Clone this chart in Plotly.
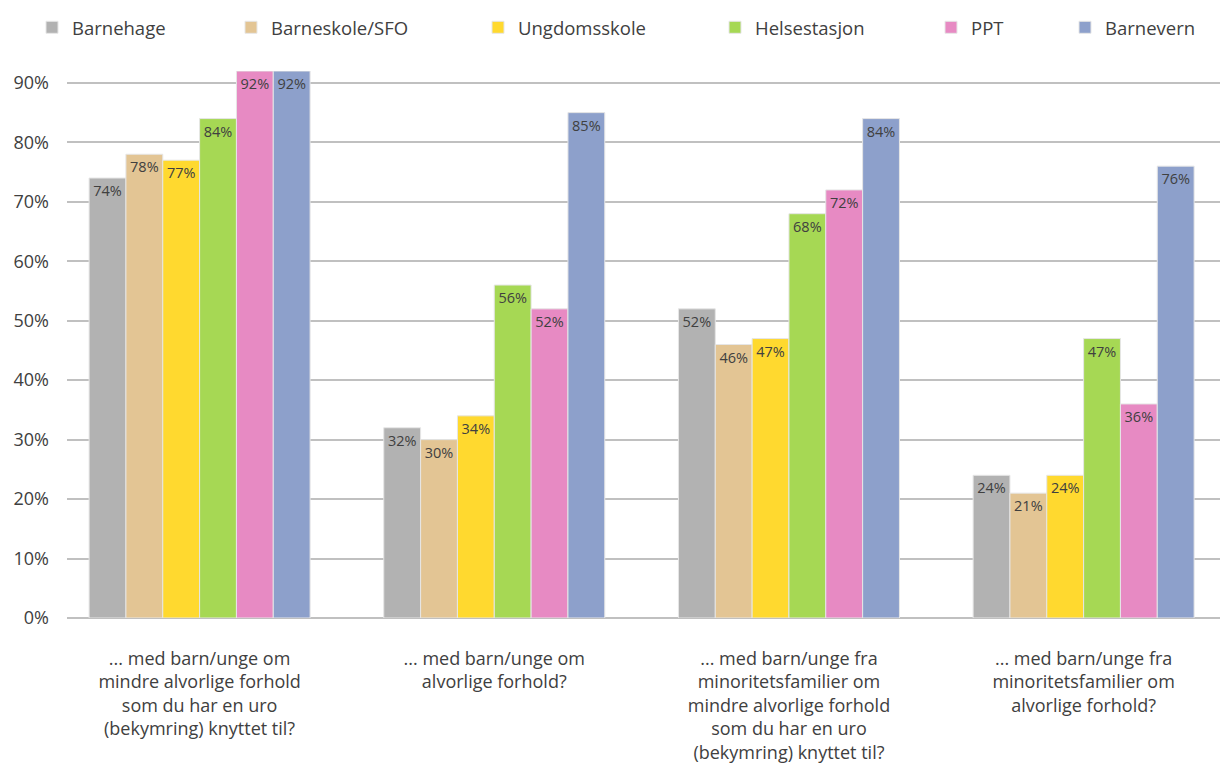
import plotly.graph_objects as go

categories = [
    "... med barn/unge om<br>mindre alvorlige forhold<br>som du har en uro<br>(bekymring) knyttet til?",
    "... med barn/unge om<br>alvorlige forhold?",
    "... med barn/unge fra<br>minoritetsfamilier om<br>mindre alvorlige forhold<br>som du har en uro<br>(bekymring) knyttet til?",
    "... med barn/unge fra<br>minoritetsfamilier om<br>alvorlige forhold?",
]
series_names = ["Barnehage", "Barneskole/SFO", "Ungdomsskole", "Helsestasjon", "PPT", "Barnevern"]
barnehage = [0.74, 0.32, 0.52, 0.24]
barneskole = [0.78, 0.30, 0.46, 0.21]
ungdomsskole = [0.77, 0.34, 0.47, 0.24]
helsestasjon = [0.84, 0.56, 0.68, 0.47]
ppt = [0.92, 0.52, 0.72, 0.36]
barnevern = [0.92, 0.85, 0.84, 0.76]
tick_vals = [0, 0.1, 0.2, 0.3, 0.4, 0.5, 0.6, 0.7, 0.8, 0.9]
tick_text = ["0%", "10%", "20%", "30%", "40%", "50%", "60%", "70%", "80%", "90%"]

series_values = [barnehage, barneskole, ungdomsskole, helsestasjon, ppt, barnevern]
colors = ["#B2B2B2", "#E3C594", "#FFD92F", "#A6D854", "#E78AC3", "#8DA0CB"]

FONT = "Open Sans"
W, H = 1228, 774
L, R, T, B = 59, 8, 63, 164
legend_text_px = [73, 272, 519, 756, 972, 1106]

fig = go.Figure()
x_idx = list(range(len(categories)))
for i, (name, vals, col) in enumerate(zip(series_names, series_values, colors)):
    lg = "legend" if i == 0 else f"legend{i+1}"
    fig.add_trace(go.Bar(
        name=name, x=x_idx, y=vals,
        marker=dict(color=col, line=dict(color="#E6E6E6", width=1)),
        texttemplate="%{y:.0%}", textposition="inside", insidetextanchor="end",
        textangle=0, constraintext="none",
        textfont=dict(family=FONT, size=14.5, color="#404040"),
        legend=lg, hoverinfo="skip",
    ))

layout_legends = {}
plot_w = W - L - R
for i, tx in enumerate(legend_text_px):
    key = "legend" if i == 0 else f"legend{i+1}"
    layout_legends[key] = dict(
        x=(tx - 41 - 67) / plot_w, xanchor="left", y=0.999, yref="container", yanchor="top",
        orientation="h", font=dict(family=FONT, size=18.5, color="#404040"),
        bgcolor="rgba(0,0,0,0)", itemclick=False, itemdoubleclick=False,
        tracegroupgap=0,
    )

fig.update_layout(
    width=W, height=H,
    margin=dict(l=L, r=R, t=T, b=B, autoexpand=False),
    paper_bgcolor="white", plot_bgcolor="white",
    barmode="group", bargap=0.25, bargroupgap=0,
    font=dict(family=FONT, color="#404040"),
    showlegend=True,
    xaxis=dict(
        tickmode="array", tickvals=x_idx, ticktext=categories,
        range=[-0.45, 3.49], showgrid=False, zeroline=False, showline=False,
        ticks="", tickfont=dict(family=FONT, size=18, color="#404040"),
        ticklabelstandoff=28, automargin=False,
    ),
    yaxis=dict(
        range=[0, 0.92], tickmode="array", tickvals=tick_vals, ticktext=tick_text,
        showgrid=True, gridcolor="#C0C0C0", gridwidth=2,
        zeroline=True, zerolinecolor="#C0C0C0", zerolinewidth=2,
        showline=False, ticks="", tickfont=dict(family=FONT, size=18, color="#404040"),
        ticklabelstandoff=17, automargin=False,
    ),
    **layout_legends,
)

fig.write_html("out.html")
